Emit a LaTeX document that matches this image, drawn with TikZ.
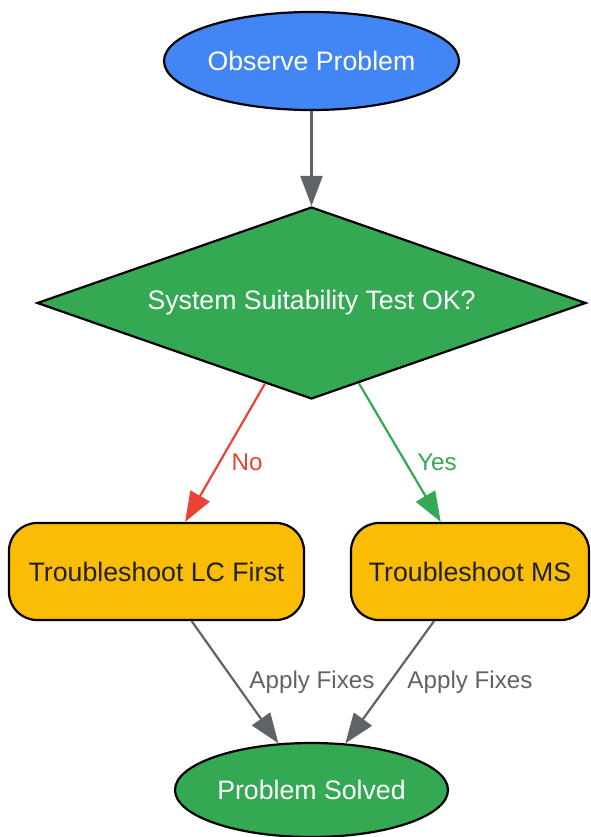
\documentclass[tikz,border=0pt]{standalone}
\usepackage{fontspec}
\setmainfont{Liberation Sans}
\usetikzlibrary{shapes.geometric,arrows.meta}
\definecolor{gblue}{HTML}{4285F4}
\definecolor{ggreen}{HTML}{34A853}
\definecolor{gyellow}{HTML}{FBBC04}
\definecolor{gred}{HTML}{EA4335}
\definecolor{ggray}{HTML}{5F6368}
\definecolor{gdark}{HTML}{202124}
\tikzset{
  base/.style={draw=black, line width=2.2pt, inner sep=0pt, font=\fontsize{26.7}{32}\selectfont},
  oval/.style={base, ellipse, text=white},
  decision/.style={base, diamond, fill=ggreen, text=white},
  task/.style={base, rectangle, rounded corners=28pt, fill=gyellow, text=gdark, minimum height=97pt},
  conn/.style={line width=2.2pt, -{Triangle[length=30pt,width=22pt]}},
  elabel/.style={font=\fontsize{24.2}{29}\selectfont, inner sep=0pt}
}
\begin{document}
\begin{tikzpicture}[x=1pt,y=-1pt]
\useasboundingbox (0,0) rectangle (590,837);
\node[oval, fill=gblue, minimum width=295pt, minimum height=98pt] (obs) at (311.5,61) {Observe Problem};
\node[decision, minimum width=549pt, minimum height=192pt, aspect=2.86] (sst) at (311.5,303) {System Suitability Test OK?};
\node[task, minimum width=295pt] (lc) at (156.5,571.5) {Troubleshoot LC First};
\node[task, minimum width=238pt] (ms) at (470,571.5) {Troubleshoot MS};
\node[oval, fill=ggreen, minimum width=273pt, minimum height=94pt] (sol) at (311.5,790) {Problem Solved};
\draw[conn, ggray] (obs) -- (sst);
\draw[conn, gred] (sst) -- (lc);
\draw[conn, ggreen] (sst) -- (ms);
\draw[conn, ggray] (lc) -- (sol);
\draw[conn, ggray] (ms) -- (sol);
\node[elabel, text=gred] (lno) at (247,462) {No};
\node[elabel, text=ggreen] (lyes) at (437,462) {Yes};
\node[elabel, text=ggray] (lfix1) at (312,682) {Apply Fixes};
\node[elabel, text=ggray] (lfix2) at (470,682) {Apply Fixes};
\end{tikzpicture}
\end{document}
